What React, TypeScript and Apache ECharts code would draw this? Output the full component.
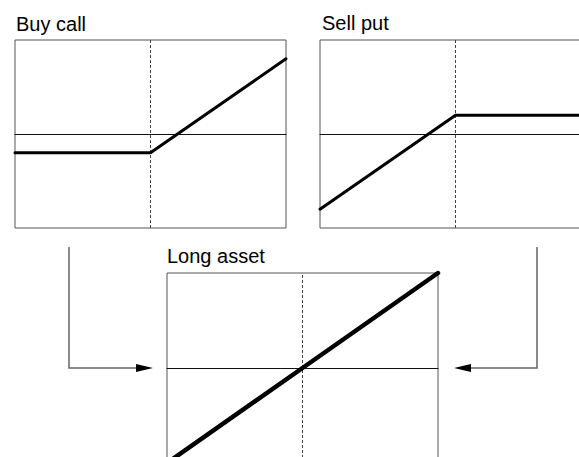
import React, { useEffect, useRef } from "react";
import * as echarts from "echarts";

// Payoff diagrams: x = underlying price (normalised 0..1), y = payoff (normalised -1..1)
const priceX = [0, 0.5, 1];
const strike = 0.5;
const buyCallY = [-0.2, -0.2, 0.8];
const sellPutY = [-0.8, 0.2, 0.2];
const longAssetY = [-1, 0, 1];
const titles = ["Buy call", "Sell put", "Long asset"];

const FONT = "Liberation Sans, Arial, Helvetica, sans-serif";

export default function App() {
  const ref = useRef<HTMLDivElement>(null);
  useEffect(() => {
    if (!ref.current) return;
    const chart = echarts.init(ref.current, undefined, { renderer: "svg" });
    const grids = [
      { left: 15, top: 40, width: 271, height: 188 },
      { left: 320, top: 40, width: 271, height: 188 },
      { left: 167, top: 273, width: 271, height: 190 },
    ];
    const ys = [buyCallY, sellPutY, longAssetY];
    const widths = [3, 3, 4.5];
    const option: any = {
      animation: false,
      backgroundColor: "#fff",
      grid: grids.map((g) => ({
        ...g,
        show: true,
        borderColor: "#555",
        borderWidth: 1,
        backgroundColor: "transparent",
      })),
      xAxis: grids.map((_, i) => ({
        type: "value",
        gridIndex: i,
        min: 0,
        max: 1,
        axisLine: { show: true, onZero: true, lineStyle: { color: "#111", width: 1 } },
        axisTick: { show: false },
        axisLabel: { show: false },
        splitLine: { show: false },
      })),
      yAxis: grids.map((_, i) => ({
        type: "value",
        gridIndex: i,
        min: -1,
        max: 1,
        axisLine: { show: false },
        axisTick: { show: false },
        axisLabel: { show: false },
        splitLine: { show: false },
      })),
      series: ys.map((y, i) => ({
        type: "line",
        xAxisIndex: i,
        yAxisIndex: i,
        data: priceX.map((x, k) => [x, y[k]]),
        symbol: "none",
        clip: false,
        lineStyle: { color: "#000", width: widths[i], cap: "round" },
        z: 5,
        markLine: {
          silent: true,
          symbol: "none",
          label: { show: false },
          lineStyle: { color: "#444", width: 1, type: [3, 2] },
          data: [{ xAxis: strike }],
          z: 3,
        },
      })),
      graphic: [
        {
          type: "text",
          left: 16,
          top: 14,
          style: { text: titles[0], font: `20px ${FONT}`, fill: "#000" },
        },
        {
          type: "text",
          left: 322,
          top: 13,
          style: { text: titles[1], font: `20px ${FONT}`, fill: "#000" },
        },
        {
          type: "text",
          left: 167,
          top: 246,
          style: { text: titles[2], font: `20px ${FONT}`, fill: "#000" },
        },
        {
          type: "polyline",
          shape: { points: [[69, 247], [69, 368], [140, 368]] },
          style: { stroke: "#666", lineWidth: 1.5, fill: null },
        },
        {
          type: "polygon",
          shape: { points: [[153, 368], [136, 364], [136, 372]] },
          style: { fill: "#000" },
        },
        {
          type: "polyline",
          shape: { points: [[537, 247], [537, 368], [466, 368]] },
          style: { stroke: "#666", lineWidth: 1.5, fill: null },
        },
        {
          type: "polygon",
          shape: { points: [[454, 368], [471, 364], [471, 372]] },
          style: { fill: "#000" },
        },
      ],
    };
    chart.setOption(option);
    return () => chart.dispose();
  }, []);
  return (
    <div
      style={{ position: "fixed", left: 0, top: 0, width: 579, height: 457, overflow: "hidden", background: "#fff" }}
    >
      <div ref={ref} style={{ position: "absolute", left: 0, top: 0, width: 610, height: 480 }} />
    </div>
  );
}
